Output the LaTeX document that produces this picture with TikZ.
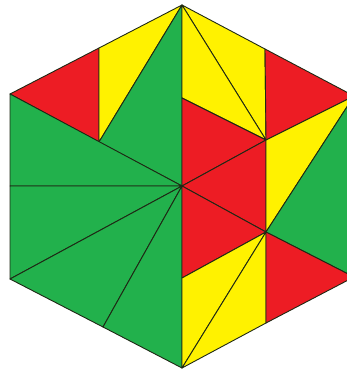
\documentclass[tikz,border=0pt]{standalone}
\definecolor{pgreen}{RGB}{34,177,76}
\definecolor{pred}{RGB}{237,28,36}
\definecolor{pyellow}{RGB}{255,242,0}
\definecolor{pline}{RGB}{30,40,20}
\begin{document}
\begin{tikzpicture}[x=1pt,y=-1pt,
  piece/.style={draw=pline,line width=0.9pt,line join=round},
  gp/.style={piece,fill=pgreen},
  rp/.style={piece,fill=pred},
  yp/.style={piece,fill=pyellow}]
\useasboundingbox (0,0) rectangle (347,372);
\clip (0,0) rectangle (347,372);
\coordinate (C) at (182,186);
\coordinate (T) at (182,5);
\coordinate (B) at (182,368);
\coordinate (UL) at (10,94);
\coordinate (LL) at (10,279);
\coordinate (UR) at (354,96);
\coordinate (LR) at (354,277);
\coordinate (M1) at (99,48);
\coordinate (M2) at (99,142);
\coordinate (ML) at (10,186);
\coordinate (MB) at (103,327);
\coordinate (D1) at (182,98);
\coordinate (D2) at (182,278);
\coordinate (P1) at (265,49);
\coordinate (Q1) at (266,140);
\coordinate (Q2) at (266,232);
\coordinate (P2) at (266,323);
% left half
\draw[rp] (UL) -- (M1) -- (M2) -- cycle;
\draw[yp] (M1) -- (T) -- (M2) -- cycle;
\draw[gp] (T) -- (C) -- (M2) -- cycle;
\draw[gp] (UL) -- (C) -- (ML) -- cycle;
\draw[gp] (ML) -- (C) -- (LL) -- cycle;
\draw[gp] (LL) -- (C) -- (MB) -- cycle;
\draw[gp] (MB) -- (C) -- (B) -- cycle;
% right upper triangle
\draw[yp] (T) -- (P1) -- (Q1) -- cycle;
\draw[yp] (T) -- (Q1) -- (D1) -- cycle;
\draw[rp] (P1) -- (UR) -- (Q1) -- cycle;
\draw[rp] (D1) -- (Q1) -- (C) -- cycle;
% right middle triangle
\draw[rp] (C) -- (Q1) -- (Q2) -- cycle;
\draw[yp] (Q1) -- (UR) -- (Q2) -- cycle;
\draw[gp] (Q2) -- (UR) -- (LR) -- cycle;
% right lower triangle
\draw[rp] (C) -- (Q2) -- (D2) -- cycle;
\draw[yp] (D2) -- (Q2) -- (B) -- cycle;
\draw[yp] (Q2) -- (P2) -- (B) -- cycle;
\draw[rp] (Q2) -- (LR) -- (P2) -- cycle;
\end{tikzpicture}
\end{document}
